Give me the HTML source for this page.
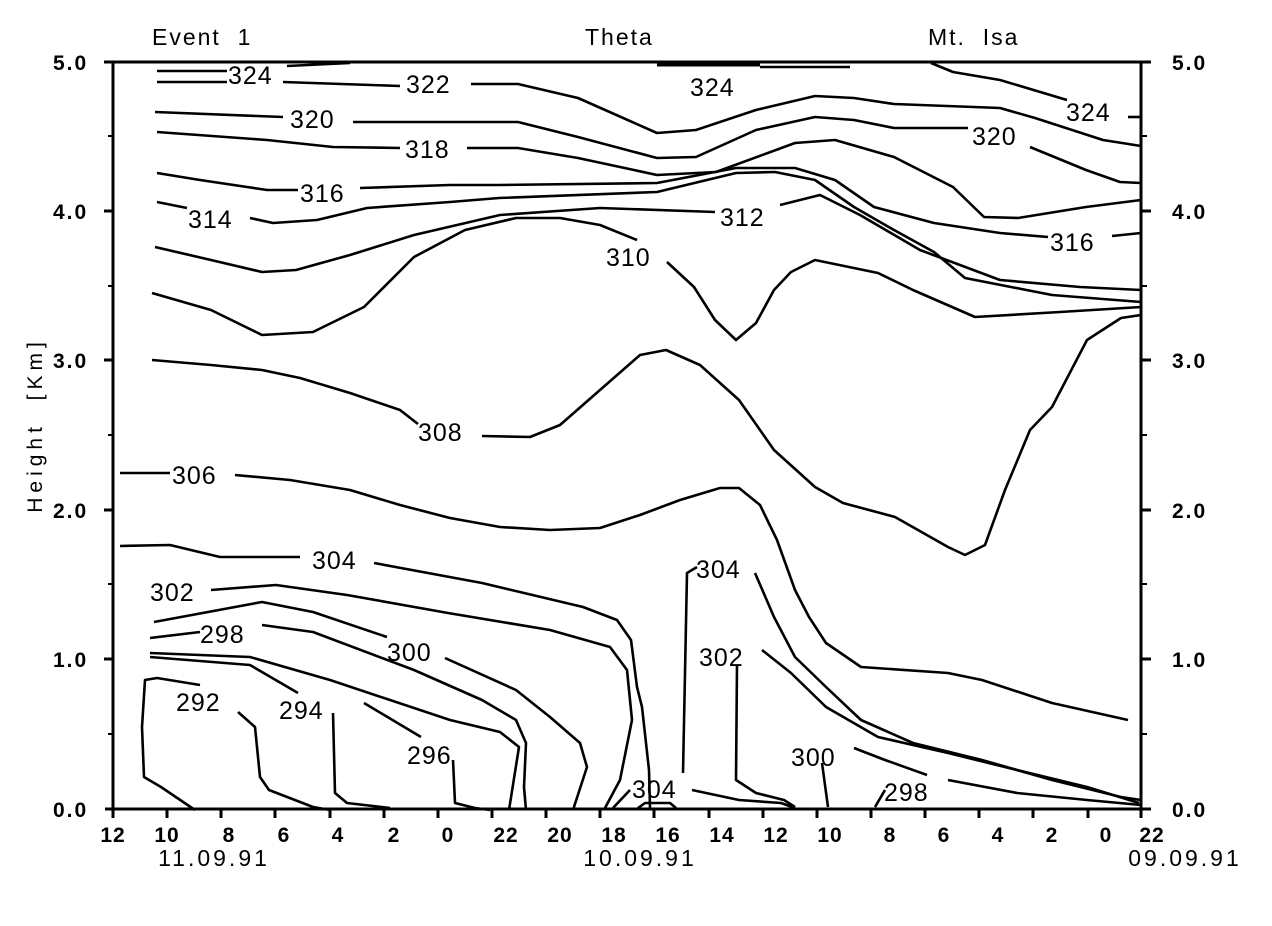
<!DOCTYPE html>
<html><head><meta charset="utf-8"><style>
html,body{margin:0;padding:0;background:#fff;}
svg{display:block;}
text{font-family:"Liberation Sans",sans-serif;fill:#000;white-space:pre;}
</style></head><body>
<svg width="1272" height="926" viewBox="0 0 1272 926" xmlns="http://www.w3.org/2000/svg">
<g stroke="#000" stroke-width="3" fill="none">
<line x1="112" y1="62" x2="1141" y2="62"/>
<line x1="113" y1="62" x2="113" y2="809"/>
<line x1="1141" y1="62" x2="1141" y2="809"/>
<line x1="105" y1="809" x2="1141" y2="809"/>
<path d="M104 62h9M104 211h9M104 360h9M104 510h9M104 659h9M1141 62h10M1141 211h10M1141 360h10M1141 510h10M1141 659h10M1141 809h10"/>
<path stroke-width="2" d="M108 136h5M108 286h5M108 435h5M108 584h5M108 734h5M1141 136h6M1141 286h6M1141 435h6M1141 584h6M1141 734h6"/>
<path d="M113 809v9M167 809v9M221 809v9M275 809v9M330 809v9M384 809v9M438 809v9M492 809v9M546 809v9M600 809v9M654 809v9M709 809v9M763 809v9M817 809v9M871 809v9M925 809v9M979 809v9M1033 809v9M1088 809v9M1141 809v9"/>
</g>
<g stroke="#000" stroke-width="2.6" fill="none" stroke-linejoin="round">
<polyline points="157,71 227,71"/>
<polyline points="287,66 350,63"/>
<polyline points="157,82 227,82"/>
<polyline points="283,82 400,86"/>
<polyline points="471,84 518,84 578,98 657,133 696,130 756,110 815,96 854,98 894,104 1000,108 1035,118 1103,140 1141,146"/>
<polyline stroke-width="5" points="657,64 760,64"/>
<polyline points="760,67 850,67"/>
<polyline points="931,63 953,72 1000,80 1067,100"/>
<polyline points="1128,117 1141,117"/>
<polyline points="155,112 283,117"/>
<polyline points="353,122 518,122 578,137 657,158 696,157 756,130 815,117 854,120 894,128 968,128"/>
<polyline points="1030,147 1086,170 1120,182 1141,183"/>
<polyline points="157,132 267,140 333,147 400,148"/>
<polyline points="467,148 518,148 578,158 657,175 716,172 795,143 835,140 894,157 953,187 984,217 1018,218 1086,207 1141,200"/>
<polyline points="157,173 200,180 267,190 298,190"/>
<polyline points="360,188 450,185 499,185 657,183 736,168 795,168 835,180 874,207 934,223 1000,233 1048,237"/>
<polyline points="1112,236 1141,233"/>
<polyline points="157,202 187,208"/>
<polyline points="250,218 273,223 317,220 367,208 450,202 499,198 657,192 736,173 775,172 815,180 854,207 894,230 934,252 965,278 1052,295 1141,302"/>
<polyline points="155,247 211,260 262,272 296,270 350,255 414,235 500,215 600,208 715,212"/>
<polyline points="780,205 820,195 860,215 920,250 1000,280 1080,287 1141,290"/>
<polyline points="152,293 211,310 262,335 313,332 364,307 414,257 465,230 516,218 560,218 600,225 637,240"/>
<polyline points="667,262 694,287 715,320 736,340 756,323 774,290 791,272 815,260 878,273 913,290 975,317 1060,312 1141,307"/>
<polyline points="152,360 211,365 262,370 300,378 350,393 400,410 418,424"/>
<polyline points="482,436 530,437 560,425 600,390 640,355 666,350 700,365 739,400 774,450 815,487 843,503 895,517 948,547 965,555 985,545 1005,490 1030,430 1052,407 1087,340 1121,318 1141,315"/>
<polyline points="120,473 170,473"/>
<polyline points="235,475 290,480 350,490 400,505 450,518 500,527 550,530 600,528 640,515 680,500 720,488 739,488 760,505 777,540 795,590 809,617 826,643 861,667 948,673 982,680 1052,703 1128,720"/>
<polyline points="120,546 170,545 220,557 300,557"/>
<polyline points="374,563 482,583 583,607 617,620 631,640 637,687 642,707 649,770 650,808"/>
<polyline points="211,590 276,585 347,595 448,613 550,630 610,647 627,670 632,720 620,780 605,808"/>
<polyline points="154,622 262,602 313,612 387,637"/>
<polyline points="445,658 516,690 550,717 580,743 587,767 573,810"/>
<polyline points="150,638 200,632"/>
<polyline points="262,625 313,632 414,670 482,700 516,720 526,743 524,787 526,810"/>
<polyline points="150,653 250,657 330,680 450,720 500,732 519,747 509,810"/>
<polyline points="150,657 250,665 298,693"/>
<polyline points="333,713 335,793 347,803 390,808"/>
<polyline points="421,737 364,703"/>
<polyline points="453,760 455,803 475,808 490,810"/>
<polyline points="200,685 157,678 145,680 142,727 144,777 161,787 195,810"/>
<polyline points="238,712 255,727 260,777 269,790 313,807 330,810"/>
<polyline points="613,808 630,790"/>
<polyline points="638,808 645,803 670,803 676,808"/>
<polyline points="683,773 687,573 697,567"/>
<polyline points="755,573 774,617 795,657 826,687 861,720 913,743 982,760 1052,780 1121,797 1141,800"/>
<polyline points="692,790 739,800 781,803 795,808"/>
<polyline points="762,650 791,673 826,707 878,737 948,753 1017,770 1087,787 1139,803"/>
<polyline points="737,665 736,780 756,793 784,800 795,807"/>
<polyline points="854,748 885,760 927,775"/>
<polyline points="822,763 828,807"/>
<polyline points="948,780 1017,793 1087,800 1141,805"/>
<polyline points="875,807 885,790"/>
</g>
<g font-size="25" letter-spacing="1">
<text x="228" y="84">324</text>
<text x="406" y="93">322</text>
<text x="690" y="96">324</text>
<text x="1066" y="121">324</text>
<text x="290" y="128">320</text>
<text x="972" y="145">320</text>
<text x="405" y="158">318</text>
<text x="300" y="202">316</text>
<text x="1050" y="251">316</text>
<text x="188" y="228">314</text>
<text x="720" y="226">312</text>
<text x="606" y="266">310</text>
<text x="418" y="441">308</text>
<text x="172" y="484">306</text>
<text x="312" y="569">304</text>
<text x="150" y="601">302</text>
<text x="200" y="643">298</text>
<text x="387" y="661">300</text>
<text x="176" y="711">292</text>
<text x="279" y="719">294</text>
<text x="407" y="764">296</text>
<text x="696" y="578">304</text>
<text x="699" y="666">302</text>
<text x="791" y="766">300</text>
<text x="884" y="801">298</text>
<text x="632" y="798">304</text>
</g>
<g font-size="23" letter-spacing="2">
<text x="152" y="45">Event  1</text>
<text x="585" y="45">Theta</text>
<text x="928" y="45">Mt.  Isa</text>
</g>
<g font-size="21" font-weight="bold" letter-spacing="2">
<text x="53" y="70">5.0</text><text x="53" y="219">4.0</text><text x="53" y="368">3.0</text><text x="53" y="518">2.0</text><text x="53" y="667">1.0</text><text x="53" y="817">0.0</text>
<text x="1172" y="70">5.0</text><text x="1172" y="219">4.0</text><text x="1172" y="368">3.0</text><text x="1172" y="518">2.0</text><text x="1172" y="667">1.0</text><text x="1172" y="817">0.0</text>
</g>
<text font-size="21" letter-spacing="5" transform="translate(42,425) rotate(-90)" text-anchor="middle">Height  [Km]</text>
<g font-size="21" font-weight="bold" text-anchor="middle" letter-spacing="1">
<text x="113" y="842">12</text><text x="167" y="842">10</text><text x="229" y="842">8</text><text x="284" y="842">6</text><text x="338" y="842">4</text><text x="394" y="842">2</text><text x="448" y="842">0</text><text x="506" y="842">22</text><text x="560" y="842">20</text><text x="614" y="842">18</text><text x="668" y="842">16</text><text x="722" y="842">14</text><text x="776" y="842">12</text><text x="830" y="842">10</text><text x="890" y="842">8</text><text x="944" y="842">6</text><text x="998" y="842">4</text><text x="1052" y="842">2</text><text x="1106" y="842">0</text><text x="1152" y="842">22</text>
</g>
<g font-size="23" text-anchor="middle" letter-spacing="3">
<text x="214" y="866">11.09.91</text>
<text x="640" y="866">10.09.91</text>
<text x="1185" y="866">09.09.91</text>
</g>
</svg>
</body></html>
